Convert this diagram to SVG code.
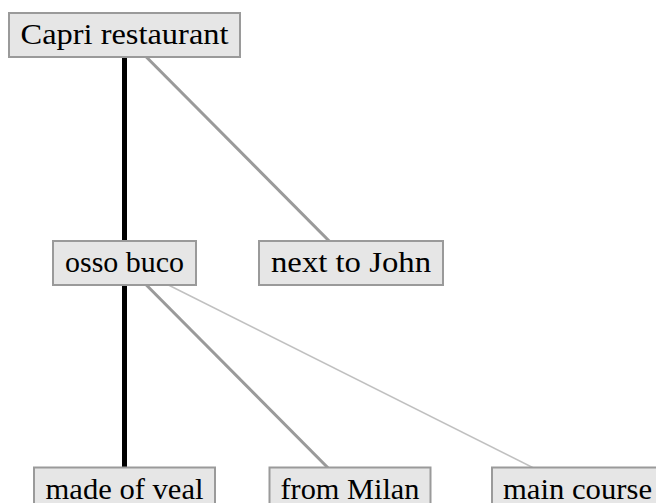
<svg xmlns="http://www.w3.org/2000/svg" width="656" height="503" viewBox="0 0 656 503">
<style>
.box{fill:#e6e6e6;stroke:#9a9a9a;stroke-width:2}
.lbl{font-family:"Liberation Serif","DejaVu Serif",serif;font-size:29px;fill:#000;text-anchor:middle}
.e-black{stroke:#000;stroke-width:5;fill:none}
.e-gray{stroke:#9a9a9a;stroke-width:3;fill:none}
.e-light{stroke:#c0c0c0;stroke-width:1.6;fill:none}
</style>
<rect width="656" height="503" fill="#fff"/>
<g id="connectors">
<line class="e-black" x1="124.5" y1="35" x2="124.5" y2="263"/>
<line class="e-gray" x1="124.5" y1="35" x2="351" y2="263"/>
<line class="e-black" x1="124.5" y1="263" x2="124.5" y2="490"/>
<line class="e-gray" x1="124.5" y1="263" x2="350" y2="490"/>
<line class="e-light" x1="124.5" y1="263" x2="577.5" y2="490"/>
</g>
<g id="capri">
<rect class="box" x="9" y="13" width="231" height="44"/>
<text class="lbl" x="124.5" y="43.5" textLength="208" lengthAdjust="spacingAndGlyphs">Capri restaurant</text>
</g>
<g id="osso">
<rect class="box" x="53" y="241" width="143" height="44"/>
<text class="lbl" x="124.5" y="272" textLength="119" lengthAdjust="spacingAndGlyphs">osso buco</text>
</g>
<g id="john">
<rect class="box" x="259" y="241" width="184" height="44"/>
<text class="lbl" x="351" y="272" textLength="160" lengthAdjust="spacingAndGlyphs">next to John</text>
</g>
<g id="veal">
<rect class="box" x="34" y="467.5" width="181" height="44"/>
<text class="lbl" x="124.5" y="498.5" textLength="158" lengthAdjust="spacingAndGlyphs">made of veal</text>
</g>
<g id="milan">
<rect class="box" x="269.5" y="467.5" width="161" height="44"/>
<text class="lbl" x="350" y="498.5" textLength="139" lengthAdjust="spacingAndGlyphs">from Milan</text>
</g>
<g id="main">
<rect class="box" x="492" y="467.5" width="171" height="44"/>
<text class="lbl" x="577.5" y="498.5" textLength="149" lengthAdjust="spacingAndGlyphs">main course</text>
</g>
</svg>
